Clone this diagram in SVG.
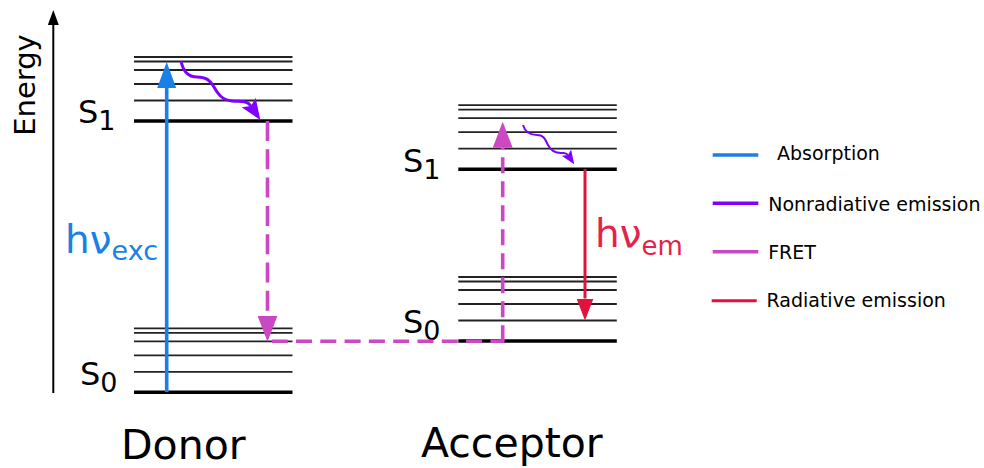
<svg xmlns="http://www.w3.org/2000/svg" xmlns:xlink="http://www.w3.org/1999/xlink" width="984" height="468" viewBox="0 0 984 468">
<style>
text{font-family:"DejaVu Sans",Verdana,sans-serif;}
.thin{stroke:#222;stroke-width:1.8}
.thick{stroke:#000;stroke-width:3.6}
.lbl{font-size:32px;fill:#000}
.sub{font-size:27px}
.title{font-size:41px;fill:#000}
.leg{font-size:19px;fill:#000}
.axis{stroke:#000;stroke-width:2;fill:none}
.abs{stroke:#1a7fe6;stroke-width:3.6;fill:none}
.nonrad{stroke:#8000ff;fill:none}
.fret{stroke:#cc47c4;stroke-width:3.6;fill:none}
.rad{stroke:#e3123c;stroke-width:3;fill:none}
</style>
<defs>
<g id="ladder">
<line class="thin" x1="0" y1="-64" x2="158.5" y2="-64"/>
<line class="thin" x1="0" y1="-59.5" x2="158.5" y2="-59.5"/>
<line class="thin" x1="0" y1="-51" x2="158.5" y2="-51"/>
<line class="thin" x1="0" y1="-37" x2="158.5" y2="-37"/>
<line class="thin" x1="0" y1="-20.5" x2="158.5" y2="-20.5"/>
<line class="thick" x1="0" y1="0" x2="158.5" y2="0"/>
</g>
<marker id="hAxis" markerUnits="userSpaceOnUse" viewBox="0 0 15 11" markerWidth="15" markerHeight="11" refX="0" refY="5.5" orient="auto"><path d="M0,0 L15,5.5 L0,11 z" fill="#000"/></marker>
<marker id="hAbs" markerUnits="userSpaceOnUse" viewBox="0 0 26 19" markerWidth="26" markerHeight="19" refX="0" refY="9.5" orient="auto"><path d="M0,0 L26,9.5 L0,19 z" fill="#1a7fe6"/></marker>
<marker id="hFret" markerUnits="userSpaceOnUse" viewBox="0 0 26 20" markerWidth="26" markerHeight="20" refX="0" refY="10" orient="auto"><path d="M0,0 L26,10 L0,20 z" fill="#cc47c4"/></marker>
<marker id="hRad" markerUnits="userSpaceOnUse" viewBox="0 0 22 17" markerWidth="22" markerHeight="17" refX="0" refY="8.5" orient="auto"><path d="M0,0 L22,8.5 L0,17 z" fill="#e3123c"/></marker>
<marker id="hNon" markerUnits="strokeWidth" viewBox="0 0 20 16" markerWidth="7" markerHeight="5.6" refX="4" refY="8" orient="auto"><path d="M0,0 L20,8 L0,16 L4,8 z" fill="#8000ff"/></marker>
</defs>

<g id="energy-axis">
<path class="axis" d="M53.3,393 V25" marker-end="url(#hAxis)"/>
<text transform="translate(35,85) rotate(-90)" text-anchor="middle" font-size="29" fill="#000">Energy</text>
</g>

<g id="donor-S1">
<use xlink:href="#ladder" x="134" y="121"/>
<text class="lbl" x="78" y="123">S<tspan class="sub" dy="7">1</tspan></text>
</g>
<g id="donor-S0">
<use xlink:href="#ladder" x="134" y="392.3"/>
<text class="lbl" x="80" y="385">S<tspan class="sub" dy="7">0</tspan></text>
</g>
<g id="acceptor-S1">
<use xlink:href="#ladder" x="458.3" y="169.2"/>
<text class="lbl" x="403" y="171.7">S<tspan class="sub" dy="7">1</tspan></text>
</g>
<g id="acceptor-S0">
<use xlink:href="#ladder" x="458.3" y="341"/>
<text class="lbl" x="403" y="333.3">S<tspan class="sub" dy="7">0</tspan></text>
</g>
<g id="donor-title"><text class="title" x="121" y="458.5">Donor</text></g>
<g id="acceptor-title"><text class="title" x="421" y="457">Acceptor</text></g>

<g id="connectors">
<path class="abs" d="M166.7,392 V88" marker-end="url(#hAbs)"/>
<path class="nonrad" stroke-width="3" d="M181,61 C183,71 188,77 197,77 C206,77 210,80 214,87 C218,94 222,100 232,101 C240,101.8 247,100 251,106" marker-end="url(#hNon)"/>
<path class="fret" stroke-dasharray="20 8.3" d="M267.5,121 V315.7" marker-end="url(#hFret)"/>
<path class="fret" stroke-dasharray="16 8.3" d="M271.7,341.3 H504.4"/>
<path class="fret" stroke-dasharray="16 8" d="M502.7,341.3 V147.7" marker-end="url(#hFret)"/>
<path class="nonrad" stroke-width="2" d="M523,125 C525,132 530,135 537,135 C544,135 545,139 548,145 C551,151 555,153 561,153 C564,153 566,152 568,155" marker-end="url(#hNon)"/>
<path class="rad" d="M585,169 V298.5" marker-end="url(#hRad)"/>
</g>

<g id="photon-labels">
<text x="65" y="253.3" font-size="39" fill="#1a7fe6">hν<tspan font-size="27" dy="6.7">exc</tspan></text>
<text x="595" y="246.7" font-size="39" fill="#e2234a">hν<tspan font-size="26" dy="8.3">em</tspan></text>
</g>

<g id="legend">
<line class="abs" x1="712.7" y1="155" x2="758.3" y2="155"/>
<text class="leg" x="777" y="160">Absorption</text>
<line class="nonrad" stroke-width="3.4" x1="712.7" y1="203.3" x2="758.3" y2="203.3"/>
<text class="leg" x="768.2" y="211">Nonradiative emission</text>
<line class="fret" x1="712.7" y1="251.7" x2="758.3" y2="251.7"/>
<text class="leg" x="768.2" y="259.3">FRET</text>
<line class="rad" stroke-width="3.4" x1="711.7" y1="300.7" x2="756.7" y2="300.7"/>
<text class="leg" x="766.5" y="306.7">Radiative emission</text>
</g>
</svg>
